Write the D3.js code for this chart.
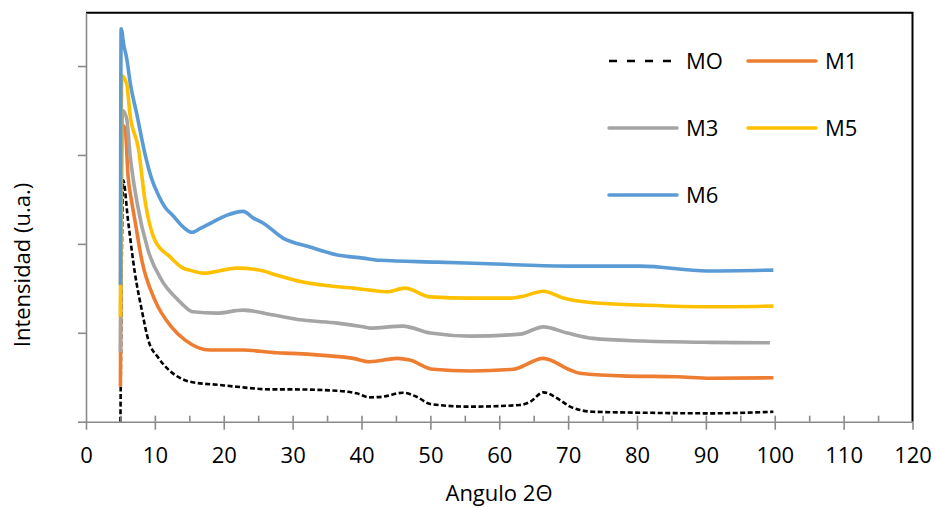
<!DOCTYPE html>
<html>
<head>
<meta charset="utf-8">
<script src="https://cdn.jsdelivr.net/npm/d3@7"></script>
<style>
  body { margin: 0; background: #fff; }
  text { font-family: "Open Sans", sans-serif; fill: #000; }
</style>
</head>
<body>
<div id="chart"></div>
<script>
// [angulo 2θ, intensidad]
const m0 = [[5.0,0],[5.4,2716],[6.1,2266],[7.1,1671],[8.1,1255],[9.05,918],[10.5,720],[12.2,570],[13.7,490],[15.1,449],
  [19.5,412],[21.9,393],[26.7,364],[29.2,364],[36.4,348],[39.3,319],[41.2,274],[43.1,281],[46,326],[48,281],
  [50,199],[55.8,169],[63,188],[64.5,225],[66.4,330],[68.8,244],[70.3,169],[73.6,112],[80.9,101],[90.6,94],[99.8,112]];
const m1 = [[5.0,393],[5.2,3340],[5.7,3290],[6.1,2770],[6.6,2490],[7.1,2266],[8.1,1817],[10,1367],[12.4,1067],[14.4,918],
  [18,806],[22.8,806],[27.7,775],[30,768],[34,749],[38.8,712],[41.2,674],[45.2,712],[47,693],[50.4,589],
  [55.8,570],[62,589],[66.4,712],[70.3,581],[71.7,544],[78.6,513],[85.8,506],[90.6,488],[99.8,494]];
const m3 = [[5.0,783],[5.3,3500],[5.9,3411],[6.4,3000],[7.4,2470],[9.0,1930],[11.0,1590],[13.4,1367],[14.4,1292],[15.5,1236],
  [19,1221],[22.8,1255],[27.2,1199],[31.5,1143],[36.5,1109],[40.2,1067],[41.2,1053],[46,1075],[50,997],[55.8,963],
  [63,985],[66.4,1067],[69.9,997],[73.6,937],[80.9,907],[90.6,892],[99.3,888]];
const m5 = [[5.0,1180],[5.2,3890],[5.9,3800],[6.4,3450],[7.6,3075],[8.6,2470],[10.0,2040],[12.2,1854],[14.1,1727],[15.1,1704],
  [17.0,1671],[21.9,1727],[25.3,1704],[27.7,1648],[31.5,1570],[36.5,1517],[38.8,1502],[41.2,1480],[43.7,1461],[46.3,1502],
  [50,1404],[55.8,1390],[61.6,1390],[63.5,1412],[66.4,1468],[69.3,1390],[73.6,1337],[80.9,1311],[90.6,1292],[99.8,1300]];
const m6 = [[5.0,1540],[5.1,4420],[5.5,4230],[5.9,4090],[6.4,3820],[7.4,3450],[8.6,3000],[9.5,2740],[10.5,2550],[11.5,2410],
  [12.6,2320],[14.1,2190],[15.4,2130],[16.6,2175],[18.4,2245],[20.4,2320],[22.8,2365],[24.3,2290],[25.7,2235],[28.6,2065],
  [32.5,1965],[36.5,1875],[40.2,1840],[42.7,1815],[51,1795],[60.6,1770],[70.3,1750],[80.5,1750],[90.2,1695],[99.8,1705]];

const names = ["MO", "M1", "M3", "M5", "M6"];
const colors = ["#000000", "#ED7D31", "#A5A5A5", "#FFC000", "#5B9BD5"];
const xTicks = d3.range(0, 121, 10);
const yTicks = [0, 1000, 2000, 3000, 4000];

const series = [m0, m1, m3, m5, m6].map((d, i) => ({ name: names[i], data: d, color: colors[i] }));

const W = 935, H = 508;
const plotLeft = 86, plotRight = 912.5, plotTop = 12.7, plotBottom = 421.7;

const svg = d3.select("#chart").append("svg")
    .attr("width", W)
    .attr("height", H);

const x = d3.scaleLinear().domain([0, 120]).range([plotLeft, plotRight]);
const y = d3.scaleLinear().domain([0, 4600]).range([plotBottom, plotTop]);

// plot area border (top / right)
svg.append("path")
    .attr("d", `M${plotLeft},${plotTop}H${plotRight}V${plotBottom}`)
    .attr("fill", "none")
    .attr("stroke", "#000")
    .attr("stroke-width", 2);

const line = d3.line()
    .curve(d3.curveMonotoneX)
    .x(d => x(d[0]))
    .y(d => y(d[1]));

svg.selectAll(".serie")
    .data(series)
    .join("path")
    .attr("class", "serie")
    .attr("d", d => line(d.data))
    .attr("fill", "none")
    .attr("stroke", d => d.color)
    .attr("stroke-width", d => d.name === "MO" ? 2.6 : 3.6)
    .attr("stroke-dasharray", d => d.name === "MO" ? "5,2.5" : null)
    .attr("stroke-linejoin", "round");

// axes
const axisColor = "#8a8a8a";

const gx = svg.append("g")
    .attr("transform", `translate(0,${plotBottom})`)
    .call(d3.axisBottom(x).tickValues(xTicks).tickSize(8).tickSizeOuter(0).tickPadding(18));
svg.append("g")
    .attr("transform", `translate(0,${plotBottom})`)
    .call(d3.axisTop(x).tickValues(d3.range(5, 120, 5)).tickSize(6).tickSizeOuter(0).tickFormat(""))
    .call(g => g.select(".domain").remove());

svg.append("g")
    .attr("transform", `translate(${plotLeft},0)`)
    .call(d3.axisLeft(y).tickValues(yTicks).tickSize(8).tickSizeOuter(0).tickFormat(""));

svg.selectAll(".domain, .tick line")
    .attr("stroke", axisColor)
    .attr("stroke-width", 1.6);

gx.selectAll(".tick text")
    .attr("font-size", 22)
    .attr("font-family", "Open Sans")
    .attr("fill", "#000");

// axis titles
svg.append("text")
    .attr("x", 499)
    .attr("y", 501)
    .attr("text-anchor", "middle")
    .attr("font-size", 22)
    .text("Angulo 2Θ");

svg.append("text")
    .attr("transform", "translate(30,265) rotate(-90)")
    .attr("text-anchor", "middle")
    .attr("font-size", 22)
    .text("Intensidad (u.a.)");

// legend
const legendPos = [[609, 61], [748, 61], [609, 128], [748, 128], [609, 195]];
const legend = svg.append("g");
series.forEach((s, i) => {
    const [lx, ly] = legendPos[i];
    legend.append("line")
        .attr("x1", lx).attr("x2", lx + 68)
        .attr("y1", ly).attr("y2", ly)
        .attr("stroke", s.color)
        .attr("stroke-width", s.name === "MO" ? 2.5 : 3.5)
        .attr("stroke-linecap", s.name === "MO" ? "butt" : "round")
        .attr("stroke-dasharray", s.name === "MO" ? "8,10" : null);
    legend.append("text")
        .attr("x", lx + 77)
        .attr("y", ly + 7.5)
        .attr("font-size", 22)
        .text(s.name);
});
</script>
</body>
</html>
